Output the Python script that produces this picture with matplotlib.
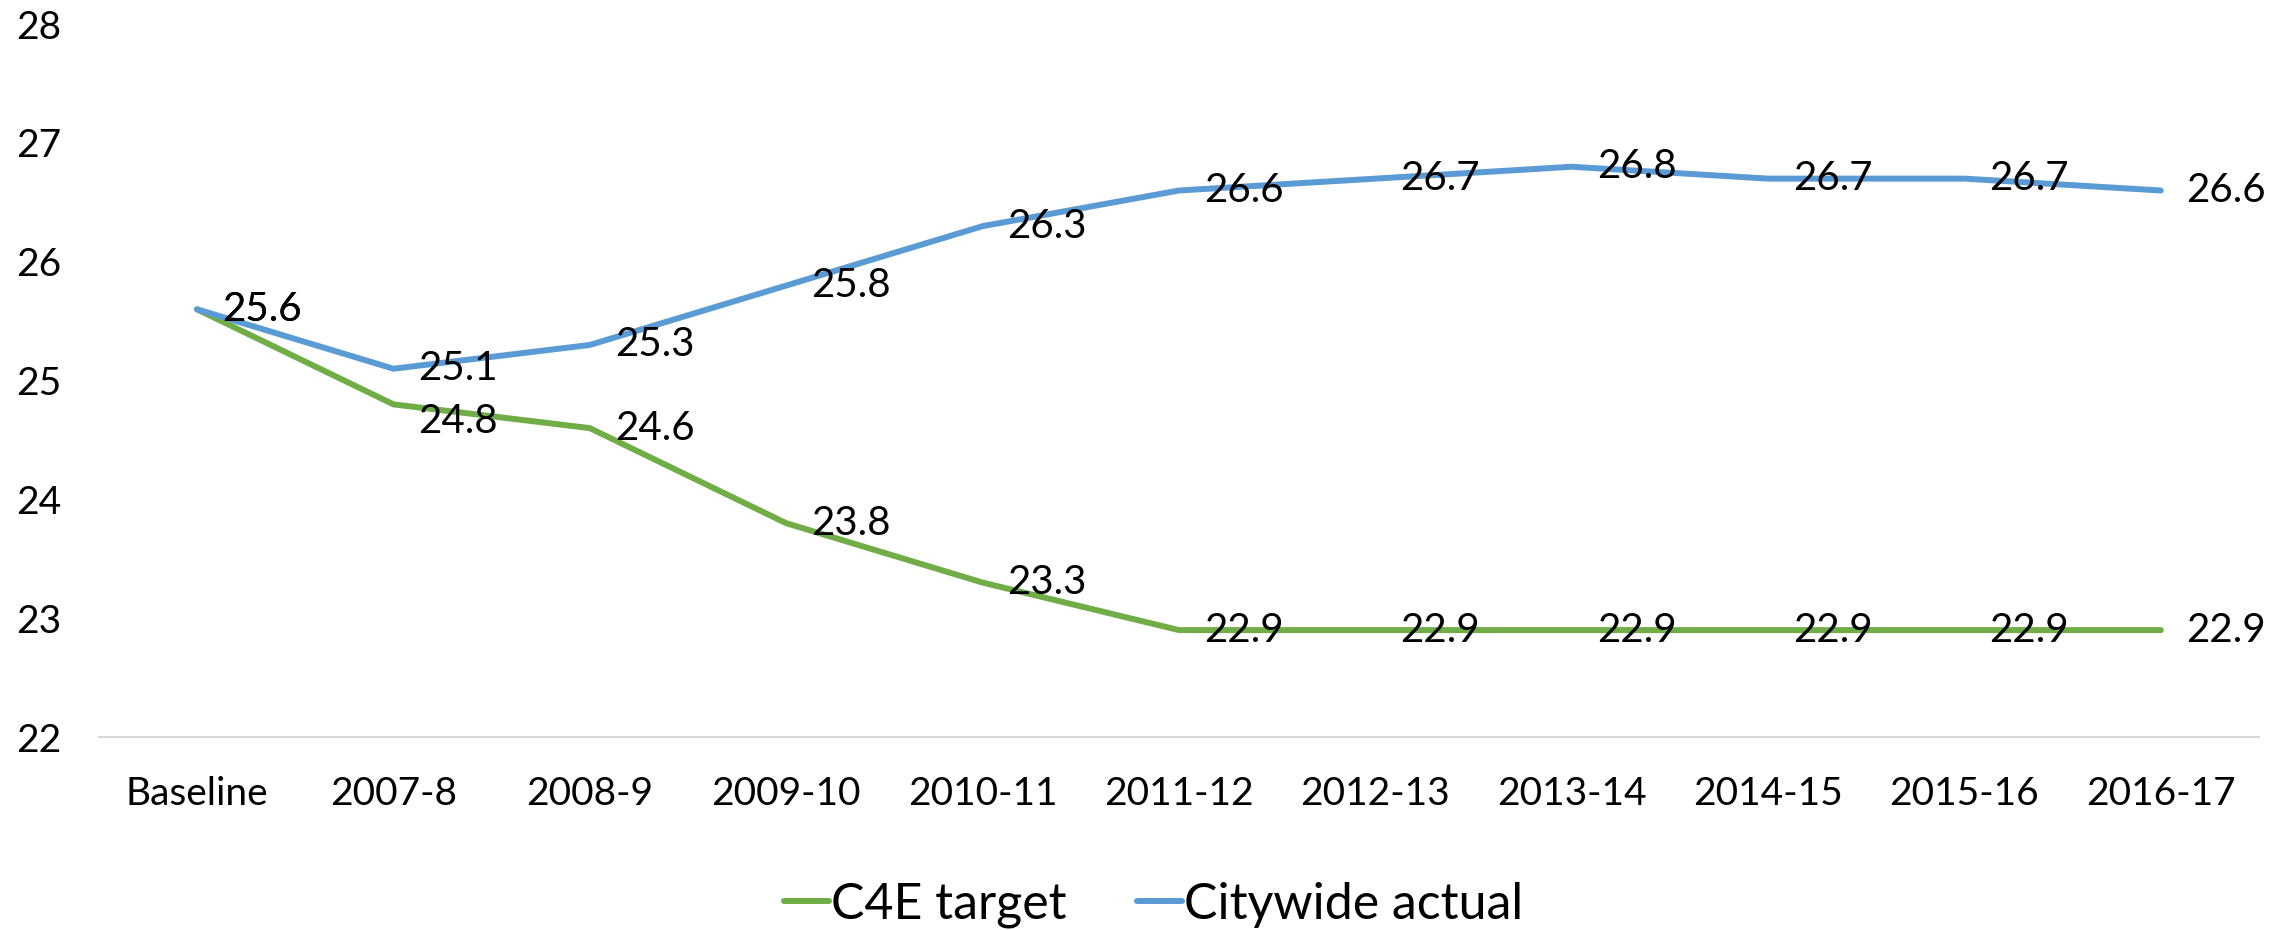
import matplotlib
matplotlib.use("Agg")
import matplotlib.pyplot as plt

# Data
categories = ["Baseline", "2007-8", "2008-9", "2009-10", "2010-11", "2011-12",
              "2012-13", "2013-14", "2014-15", "2015-16", "2016-17"]
c4e_target = [25.6, 24.8, 24.6, 23.8, 23.3, 22.9, 22.9, 22.9, 22.9, 22.9, 22.9]
citywide_actual = [25.6, 25.1, 25.3, 25.8, 26.3, 26.6, 26.7, 26.8, 26.7, 26.7, 26.6]
y_ticks = [22, 23, 24, 25, 26, 27, 28]

GREEN = "#70AD47"
BLUE = "#5B9BD5"

plt.rcParams["font.family"] = ["Lato", "DejaVu Sans"]

fig = plt.figure(figsize=(22.89, 9.30), dpi=100)
ax = fig.add_axes([0.0432, 0.2075, 0.9437, 0.7665])

x = list(range(len(categories)))
ax.plot(x, c4e_target, color=GREEN, lw=4.3, label="C4E target", solid_capstyle="round")
ax.plot(x, citywide_actual, color=BLUE, lw=4.3, label="Citywide actual", solid_capstyle="round")

# data labels to the right of each point
for i, v in enumerate(c4e_target):
    dy = -12 if i == 1 else 0  # 24.8 sits a bit lower in the original
    ax.annotate(f"{v:.1f}", (i, v), xytext=(18, dy), textcoords="offset points",
                ha="left", va="center", fontsize=29)
for i, v in enumerate(citywide_actual):
    ax.annotate(f"{v:.1f}", (i, v), xytext=(18, 0), textcoords="offset points",
                ha="left", va="center", fontsize=29)

ax.set_xlim(-0.5, len(categories) - 0.5)
ax.set_ylim(22, 28)
ax.set_yticks(y_ticks)
ax.set_xticks(x)
ax.set_xticklabels(categories)
ax.tick_params(axis="y", length=0, pad=27, labelsize=28)
ax.tick_params(axis="x", length=0, pad=28, labelsize=28)

for s in ["top", "right", "left"]:
    ax.spines[s].set_visible(False)
ax.spines["bottom"].set_color("#D9D9D9")
ax.spines["bottom"].set_linewidth(1.5)

fig.legend(loc="center", bbox_to_anchor=(0.504, 0.027), ncol=2, frameon=False,
           fontsize=36, handlelength=0.9, handletextpad=0.05, columnspacing=1.4)

fig.savefig("out.png", dpi=100)
